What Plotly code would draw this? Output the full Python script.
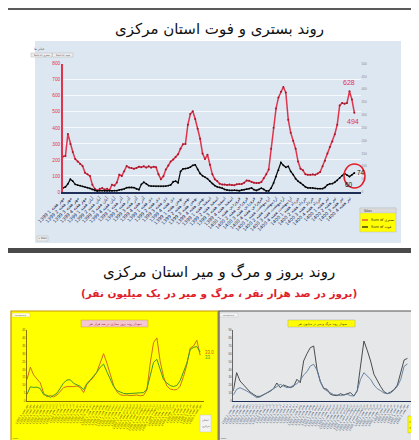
import plotly.graph_objects as go

W, H = 419, 440
def px(x): return x / W
def py(y): return 1 - y / H

# ---------------- main chart data (weekly) ----------------
hosp = [222, 225, 362, 300, 250, 205, 190, 175, 162, 120,
        110, 100, 45, 20, 10, 20, 25, 15, 20, 12,
        45, 40, 60, 108, 100, 130, 162, 152, 150, 145,
        150, 158, 154, 160, 152, 160, 152, 158, 155, 110,
        80, 98, 140, 165, 190, 202, 218, 235, 270, 298,
        300, 420, 486, 503, 455, 395, 332, 240, 205, 232,
        170, 110, 80, 68, 52, 46, 46, 44, 46, 44,
        42, 48, 50, 50, 58, 72, 70, 62, 58, 56,
        56, 62, 85, 110, 140, 270, 400, 520, 590, 625,
        655, 620, 450, 370, 320, 270, 190, 145, 135, 110,
        108, 108, 110, 108, 115, 125, 160, 195, 240, 280,
        315, 360, 420, 540, 555, 550, 555, 628, 576, 494]
deaths = [16, 20, 32, 50, 42, 30, 27, 25, 22, 19,
          17, 14, 10, 6, 4, 5, 5, 4, 4, 4,
          4, 5, 5, 8, 9, 12, 17, 18, 18, 17,
          12, 9, 30, 38, 32, 25, 23, 23, 22, 22,
          22, 22, 23, 25, 28, 40, 42, 36, 80, 90,
          91, 93, 97, 104, 106, 88, 72, 63, 58, 52,
          42, 33, 25, 20, 18, 15, 10, 7, 6, 6,
          7, 6, 5, 8, 9, 11, 13, 16, 9, 6,
          10, 15, 10, 4, 4, 15, 35, 60, 85, 115,
          104, 96, 100, 80, 68, 52, 42, 36, 28, 20,
          16, 16, 16, 14, 13, 13, 13, 18, 28, 32,
          33, 38, 45, 55, 64, 72, 66, 60, 67, 74]
weeks = list(range(len(hosp)))
months = ["مهر", "آبان", "آذر", "دی", "بهمن", "اسفند", "فروردین", "اردیبهشت", "خرداد", "تیر"]
week_years = ["1399"] * 24 + ["1400"] * 16
week_months = [m for m in months for _ in range(4)]
week_nums = [1, 2, 3, 4] * 10
main_tick_idx = list(range(0, len(hosp), 3))
main_tick_text = [f"{y} {m} هفته {n}" for y, m, n in zip(week_years, week_months, week_nums)]
left_ticks = [0, 100, 200, 300, 400, 500, 600, 700, 800]
right_ticks = [0, 50, 100, 150, 200, 250, 300, 350, 400, 450, 500]

# ---------------- small charts data ----------------
inc_a = [13.7, 21.5, 16.5, 14, 11.5, 5, 2.6, 3.5, 2.6, 3.8,
         6.5, 8.5, 9.1, 8.9, 9.1, 9.5, 8.5, 5.3, 10.5, 12.9,
         15.2, 18.5, 24.5, 30, 24, 17.5, 10, 5.8, 4, 3.5,
         3.8, 3.4, 3.8, 3.8, 3.3, 3.6, 7, 24, 37, 40,
         25, 15.5, 9.5, 7.6, 7.1, 7.2, 9.5, 15.5, 23, 33.5,
         34.8, 38.5, 29]
inc_b = [4.2, 9, 8.6, 8.8, 7.8, 4, 3.6, 2.3, 3.6, 5,
         8.2, 11.5, 13.3, 13.5, 11.2, 10, 9.3, 7.2, 11.2, 13.3,
         15.5, 18.3, 21.5, 23.4, 18.5, 13.5, 9.2, 6.6, 5.5, 4.8,
         4.6, 4.8, 5.2, 5, 5.2, 5.3, 7.5, 16, 24.5, 26.4,
         19.5, 13.5, 11.4, 9.8, 9.2, 9.8, 13, 18, 24, 32.5,
         34, 34.5, 31]
mort_c = [12.7, 35.9, 25.4, 21.1, 16, 11.4, 8.5, 5.9, 5.9, 7.6,
          10.1, 12.3, 15.6, 22.8, 16.9, 20.3, 18.2, 16.9, 18.6, 27.5,
          23.2, 50.7, 60, 67.6, 69.7, 40.1, 24.5, 16, 14.8, 8.5,
          7.2, 6.8, 9.3, 7.6, 9.3, 10.6, 6.3, 12.7, 44.4, 76,
          64.2, 50.7, 33.8, 25.4, 18.2, 11.8, 9.3, 11.4, 14.4, 20.3,
          36, 52, 54]
mort_d = [7.6, 14.8, 16.9, 15.2, 12.7, 10.1, 7.6, 4.2, 5.1, 7.6,
          10.6, 13.1, 14.8, 18.2, 21.1, 19, 16.9, 17.7, 19.9, 22,
          26.2, 33, 37.2, 44.4, 46.5, 38.9, 24.5, 15.6, 12.7, 10.1,
          8, 7.6, 6.8, 7.6, 8.5, 6.8, 6.3, 13.5, 27.5, 35.9,
          31.7, 27.5, 20.3, 15.6, 13.1, 10.1, 9.3, 10.1, 13.9, 18.6,
          27.5, 44, 47]
small_x = list(range(len(inc_a)))
small_tick_text = [f"{'1399' if i < 36 else '1400'} {months[(i // 5) % 10]} هفته {i % 4 + 1}" for i in small_x]
inc_ticks = [0, 5, 10, 15, 20, 25, 30, 35, 40, 45]
mort_ticks = [0, 10, 20, 30, 40, 50, 60, 70, 80, 90]

RED = "#e0344c"
FA = "DejaVu Sans"
LAT = "Liberation Sans"

fig = go.Figure()

# main traces
fig.add_trace(go.Scatter(x=weeks, y=hosp, mode="lines+markers", xaxis="x", yaxis="y",
                         line=dict(color=RED, width=1.5),
                         marker=dict(size=2.0, color="#a0182c"), cliponaxis=False))
fig.add_trace(go.Scatter(x=weeks, y=deaths, mode="lines+markers", xaxis="x", yaxis="y2",
                         line=dict(color="#111111", width=1.3),
                         marker=dict(size=1.8, color="#000000"), cliponaxis=False))
# yellow small chart
fig.add_trace(go.Scatter(x=small_x, y=inc_a, mode="lines", xaxis="x3", yaxis="y3",
                         line=dict(color="#d0701a", width=1.0)))
fig.add_trace(go.Scatter(x=small_x, y=inc_b, mode="lines", xaxis="x3", yaxis="y3",
                         line=dict(color="#3f9a2e", width=1.0)))
# gray small chart
fig.add_trace(go.Scatter(x=small_x, y=mort_c, mode="lines", xaxis="x4", yaxis="y4",
                         line=dict(color="#3a3a3a", width=0.9)))
fig.add_trace(go.Scatter(x=small_x, y=mort_d, mode="lines", xaxis="x4", yaxis="y4",
                         line=dict(color="#5c7b9c", width=0.9)))

shapes = []
def rect(x0, y0, x1, y1, fill, line="rgba(0,0,0,0)", lw=0, layer="below"):
    shapes.append(dict(type="rect", xref="paper", yref="paper", x0=px(x0), x1=px(x1),
                       y0=py(y1), y1=py(y0), fillcolor=fill,
                       line=dict(color=line, width=lw), layer=layer))

# top strip and separator
rect(0, 0, 419, 2, "#5a5a5a")
rect(0, 240, 419, 245, "#4a4a4a")
# main panel
rect(27, 33, 393, 235, "#dde7f1")
# small panels
rect(3, 303, 210, 434, "#ffff00", "#c79a00", 1.2)
rect(211, 303, 416, 434, "#e5e7e9", "#555555", 1.2)
# main top-left filter boxes
rect(23, 45, 44, 49, "#eeeeee", "#aaaaaa", 0.4)
rect(44.5, 45, 65, 49, "#eeeeee", "#aaaaaa", 0.4)
rect(29, 228, 40, 233, "#eeeeee", "#aaaaaa", 0.4)
# legend box
rect(352, 200, 388, 224, "#ffff00", "#bbbbbb", 0.5, "above")
rect(352, 200, 388, 205, "#d9d9d9", "#bbbbbb", 0.4, "above")
shapes.append(dict(type="line", xref="paper", yref="paper", x0=px(354), x1=px(360),
                   y0=py(212), y1=py(212), line=dict(color=RED, width=1.2)))
shapes.append(dict(type="line", xref="paper", yref="paper", x0=px(354), x1=px(360),
                   y0=py(219), y1=py(219), line=dict(color="#111", width=1.2)))
# red circle around latest values
shapes.append(dict(type="circle", xref="paper", yref="paper", x0=px(336), x1=px(357),
                   y0=py(180), y1=py(156), line=dict(color="#e0202a", width=1.5)))
# small chart title boxes and legends
rect(73, 312, 140, 319, "#f3c6d3", "#c79a00", 0.4, "above")
rect(280, 312, 347, 319, "#ffff00", "#999999", 0.4, "above")
rect(4, 305, 22, 309, "#fffbe0", "#c7b000", 0.3, "above")
rect(212, 305, 230, 309, "#f4f4f4", "#aaaaaa", 0.3, "above")
rect(192, 407, 203, 424, "#f3f3f3", "#bbbbbb", 0.4, "above")
rect(400, 408, 409, 425, "#ffff00", "#999999", 0.4, "above")
fig.update_layout(shapes=shapes)

ann = []
def text(x, y, s, size, color="#222", family=FA, xanchor="center", weight="normal"):
    ann.append(dict(xref="paper", yref="paper", x=px(x), y=py(y), text=s,
                    showarrow=False, xanchor=xanchor, yanchor="middle",
                    font=dict(size=size, color=color, family=family, weight=weight)))

text(211, 21, "روند بستری و فوت استان مرکزی", 15, "#111")
text(211, 264, "روند بروز و مرگ و میر استان مرکزی", 15, "#111")
text(211, 285, "(بروز در صد هزار نفر ، مرگ و میر در یک میلیون نفر)", 10.5, "#e0202a", weight="bold")
text(24, 41, "فیلتر ها", 3.2, "#555", xanchor="left")
text(33.5, 47, "Sum of بستری", 2.4, "#444")
text(54.7, 47, "Sum of فوت", 2.4, "#444")
text(34.5, 230.5, "+ Date", 2.6, "#444")
text(354, 202.5, "Values", 2.6, "#333", LAT, xanchor="left")
text(361, 212, "Sum of بستری", 3.5, "#222", xanchor="left")
text(361, 219, "Sum of فوت", 3.5, "#222", xanchor="left")
text(106.5, 315.5, "نمودار روند بروز بیماری در صد هزار نفر", 3.2, "#b01818")
text(313.5, 315.5, "نمودار روند مرگ و میر در میلیون نفر", 3.2, "#333")
text(13, 307, "Measures", 2.5, "#555", LAT)
text(221, 307, "Measures", 2.5, "#555", LAT)
text(197.5, 412, "استان", 2.6, "#555")
text(197.5, 418, "مرکزی", 2.6, "#555")
text(404.5, 413, "استان", 2.6, "#333")
text(404.5, 419, "مرکزی", 2.6, "#333")
text(8, 430, "Date", 2.5, "#555", LAT)
text(216, 430, "Date", 2.5, "#555", LAT)

# data-anchored value labels
ann += [
    dict(xref="x", yref="y", x=weeks[117], y=hosp[117], text="628", showarrow=False,
         yshift=9, font=dict(size=7, color=RED, family=LAT)),
    dict(xref="x", yref="y", x=weeks[119], y=hosp[119], text="494", showarrow=False,
         yshift=-9, xshift=-1, font=dict(size=7, color=RED, family=LAT)),
    dict(xref="x", yref="y2", x=weeks[119], y=deaths[119], text="74", showarrow=False,
         xshift=7, yshift=1, font=dict(size=6.5, color="#111", family=LAT)),
    dict(xref="x", yref="y2", x=weeks[117], y=deaths[117], text="60", showarrow=False,
         yshift=-8, font=dict(size=6.5, color="#111", family=LAT)),
    dict(xref="x3", yref="y3", x=small_x[-1], y=inc_a[-1], text="33.0", showarrow=False,
         xshift=9, yshift=3, font=dict(size=4.5, color="#cc5a14", family=LAT)),
    dict(xref="x3", yref="y3", x=small_x[-1], y=inc_b[-1], text="33", showarrow=False,
         xshift=8, yshift=-5, font=dict(size=4.5, color="#3f9a2e", family=LAT)),
    dict(xref="x4", yref="y4", x=small_x[-1], y=mort_c[-1], text="8.8", showarrow=False,
         xshift=8, yshift=2, font=dict(size=4.5, color="#333", family=LAT)),
    dict(xref="x4", yref="y4", x=small_x[-1], y=mort_d[-1], text="7.5", showarrow=False,
         xshift=8, yshift=-5, font=dict(size=4.5, color="#5c7b9c", family=LAT)),
]
fig.update_layout(annotations=ann)

fig.update_layout(
    width=W, height=H, margin=dict(l=0, r=0, t=0, b=0, autoexpand=False),
    paper_bgcolor="white", plot_bgcolor="rgba(0,0,0,0)", showlegend=False,
    xaxis=dict(domain=[px(55), px(352.5)], range=[0, 121.5], anchor="y", automargin=False,
               tickmode="array", tickvals=main_tick_idx, ticktext=main_tick_text,
               tickangle=-45, tickfont=dict(size=4.6, color="#1f2f5a", family=FA),
               showline=True, linecolor="#1f2f5a", linewidth=1.6, showgrid=False,
               zeroline=False, ticks=""),
    yaxis=dict(domain=[py(184), py(55.7)], range=[0, 800], anchor="x", automargin=False,
               tickmode="array", tickvals=left_ticks,
               tickfont=dict(size=4.8, color=RED, family=LAT),
               showline=True, linecolor=RED, linewidth=1.5, showgrid=True,
               gridcolor="rgba(255,255,255,0.75)", gridwidth=0.6, zeroline=False, ticks=""),
    yaxis2=dict(overlaying="y", side="right", range=[0, 500], anchor="x", automargin=False,
                tickmode="array", tickvals=right_ticks,
                tickfont=dict(size=3.2, color="#8a8a8a", family=LAT),
                showline=False, showgrid=False, zeroline=False, ticks=""),
    xaxis3=dict(domain=[px(19), px(195.5)], range=[0, 53], anchor="y3", automargin=False,
                tickmode="array", tickvals=small_x, ticktext=small_tick_text,
                tickangle=-60, tickfont=dict(size=3.0, color="#6b5a00", family=FA),
                showline=True, linecolor="#8b7500", linewidth=1, showgrid=False,
                zeroline=False, ticks=""),
    yaxis3=dict(domain=[py(393), py(322)], range=[0, 45], anchor="x3", automargin=False,
                tickmode="array", tickvals=inc_ticks,
                tickfont=dict(size=3, color="#6b5a00", family=LAT),
                showline=True, linecolor="#8b7500", linewidth=0.8, showgrid=False,
                zeroline=False, ticks=""),
    xaxis4=dict(domain=[px(225.3), px(402.8)], range=[0, 53], anchor="y4", automargin=False,
                tickmode="array", tickvals=small_x, ticktext=small_tick_text,
                tickangle=-60, tickfont=dict(size=3.0, color="#4a5a7a", family=FA),
                showline=True, linecolor="#1f2f5a", linewidth=1.2, showgrid=False,
                zeroline=False, ticks=""),
    yaxis4=dict(domain=[py(393), py(322)], range=[0, 90], anchor="x4", automargin=False,
                tickmode="array", tickvals=mort_ticks,
                tickfont=dict(size=3, color="#555", family=LAT),
                showline=True, linecolor="#666", linewidth=0.8, showgrid=False,
                zeroline=False, ticks=""),
)

fig.write_html("out.html")
